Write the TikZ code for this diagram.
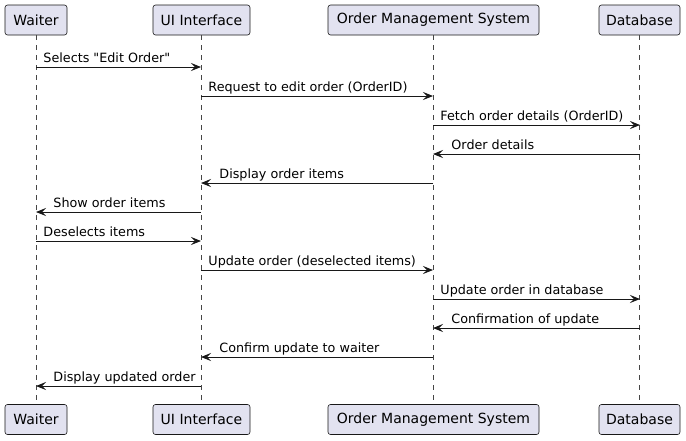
\documentclass[tikz,border=0pt]{standalone}
\usepackage{fontspec}
\setmainfont{DejaVu Sans}[Ligatures=TeXOff]
\usetikzlibrary{arrows.meta}
\definecolor{partFill}{HTML}{E2E2F0}
\definecolor{lineDark}{HTML}{181818}

\begin{document}
\begin{tikzpicture}[x=1pt, y=-1pt, >={Stealth[length=10pt,width=8pt,inset=4pt]}]
  % --- Styles (boxes, lifelines, messages, labels) ---
    \tikzset{
      part/.style  = {draw=lineDark,fill=partFill,rounded corners=2.5pt,line width=.6pt,
                      minimum height=30pt,inner sep=0pt,font=\fontsize{14}{16}\selectfont},
      life/.style  = {draw=lineDark!80,line width=.5pt,dash pattern=on 5pt off 5pt},
      msg/.style   = {->,draw=lineDark,line width=.9pt},
      lab/.style   = {font=\fontsize{12.75}{15}\selectfont,inner sep=0pt,anchor=base west}
    }
    \useasboundingbox (0,0) rectangle (686,440);

    % --- Participants (top and bottom) ---
    \node[part,minimum width=62pt]  (waiterTop) at (36,20)    {Waiter};
    \node[part,minimum width=97pt]  (uiTop)     at (201.5,20) {UI Interface};
    \node[part,minimum width=211pt] (omsTop)    at (433.5,20) {Order Management System};
    \node[part,minimum width=81pt]  (dbTop)     at (639.5,20) {Database};

    \node[part,minimum width=62pt]  (waiterBot) at (36,419.5)    {Waiter};
    \node[part,minimum width=97pt]  (uiBot)     at (201.5,419.5) {UI Interface};
    \node[part,minimum width=211pt] (omsBot)    at (433.5,419.5) {Order Management System};
    \node[part,minimum width=81pt]  (dbBot)     at (639.5,419.5) {Database};

    % --- Lifelines ---
    \draw[life] (waiterTop) -- (waiterBot);
    \draw[life] (uiTop)     -- (uiBot);
    \draw[life] (omsTop)    -- (omsBot);
    \draw[life] (dbTop)     -- (dbBot);

    % --- Message rows on each lifeline ---
    \foreach \r [evaluate=\r as \yy using 38+29*\r] in {1,...,12} {
      \coordinate (W\r) at (36,\yy);
      \coordinate (U\r) at (201,\yy);
      \coordinate (O\r) at (433,\yy);
      \coordinate (D\r) at (640,\yy);
    }

    % --- Messages: left-to-right labels sit after the tail ---
    \draw[msg] (W1) -- node[lab,pos=0,xshift=7pt,yshift=4.5pt] (m1) {Selects "Edit Order"} (U1);
    \draw[msg] (U2) -- node[lab,pos=0,xshift=7pt,yshift=4.5pt] (m2) {Request to edit order (OrderID)} (O2);
    \draw[msg] (O3) -- node[lab,pos=0,xshift=7pt,yshift=4.5pt] (m3) {Fetch order details (OrderID)} (D3);
    \draw[msg] (D4) -- node[lab,pos=1,xshift=18pt,yshift=4.5pt] (m4) {Order details} (O4);
    \draw[msg] (O5) -- node[lab,pos=1,xshift=18pt,yshift=4.5pt] (m5) {Display order items} (U5);
    \draw[msg] (U6) -- node[lab,pos=1,xshift=17pt,yshift=4.5pt] (m6) {Show order items} (W6);
    \draw[msg] (W7) -- node[lab,pos=0,xshift=7pt,yshift=4.5pt] (m7) {Deselects items} (U7);
    \draw[msg] (U8) -- node[lab,pos=0,xshift=7pt,yshift=4.5pt] (m8) {Update order (deselected items)} (O8);
    \draw[msg] (O9) -- node[lab,pos=0,xshift=7pt,yshift=4.5pt] (m9) {Update order in database} (D9);
    \draw[msg] (D10) -- node[lab,pos=1,xshift=18pt,yshift=4.5pt] (m10) {Confirmation of update} (O10);
    \draw[msg] (O11) -- node[lab,pos=1,xshift=18pt,yshift=4.5pt] (m11) {Confirm update to waiter} (U11);
    \draw[msg] (U12) -- node[lab,pos=1,xshift=17pt,yshift=4.5pt] (m12) {Display updated order} (W12);

\end{tikzpicture}
\end{document}
